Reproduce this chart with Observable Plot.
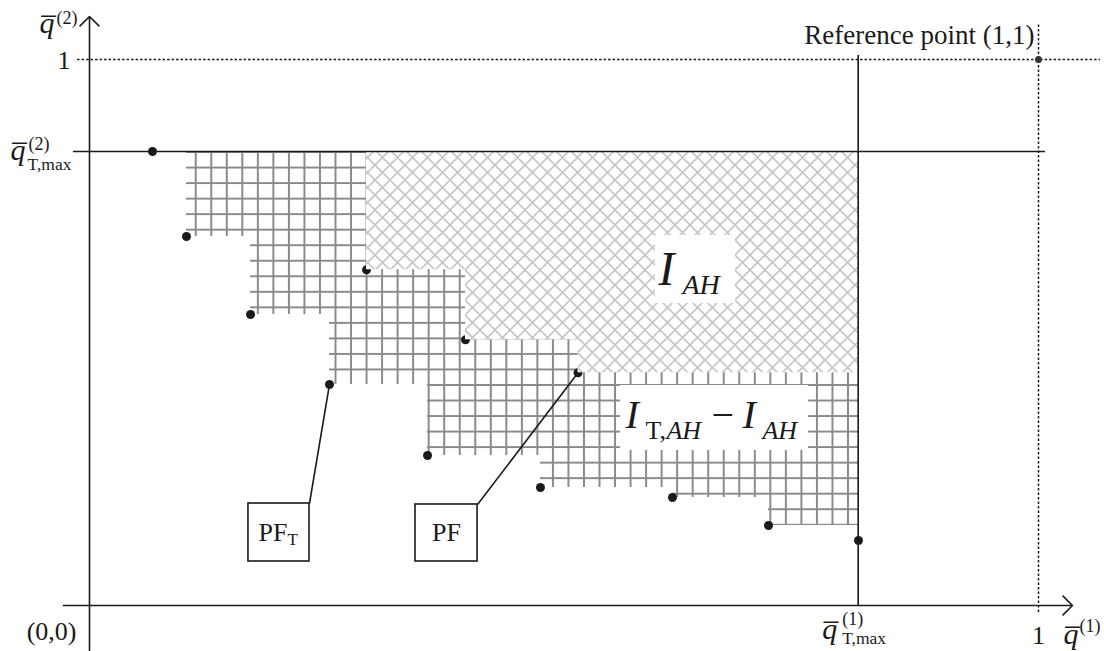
<!DOCTYPE html>
<html><head><meta charset="utf-8">
<script src="https://cdn.jsdelivr.net/npm/d3@7"></script>
<script src="https://cdn.jsdelivr.net/npm/@observablehq/plot@0.6"></script>
<style>body{margin:0;background:#fff;} svg{display:block;}</style>
</head><body><div id="chart"></div>
<script>
// ---- data (normalized objective space) ----
const q1TMax = 0.810;   // \bar q^{(1)}_{T,max}
const q2TMax = 0.8315;  // \bar q^{(2)}_{T,max}
const refX = [1];
const refY = [1];
// PF_T (true Pareto front) points
const pfTx = [0.0664, 0.1022, 0.1697, 0.2529, 0.3562, 0.4752, 0.6143, 0.7155, 0.8103];
const pfTy = [0.8315, 0.6758, 0.5330, 0.4048, 0.2747, 0.2161, 0.1978, 0.1465, 0.1190];
// PF (approximate front) points
const pfX = [0.2919, 0.3962, 0.5148];
const pfY = [0.6148, 0.4866, 0.4262];
// callout boxes: label, subscript, box extent
const calloutLabels = ["PF", "PF"];
const calloutSubs = ["T", ""];
const calloutX1 = [0.1675, 0.3435];
const calloutX2 = [0.2318, 0.4089];
const calloutY1 = [0.0806, 0.0806];
const calloutY2 = [0.1868, 0.1850];

const pfT = pfTx.map((x, i) => ({x, y: pfTy[i]}));
const pf = pfX.map((x, i) => ({x, y: pfY[i]}));
const pfArea = pf.concat([{x: q1TMax, y: pfY[pfY.length - 1]}]);
const callouts = calloutLabels.map((l, i) => ({
  label: l, sub: calloutSubs[i], x1: calloutX1[i], x2: calloutX2[i], y1: calloutY1[i], y2: calloutY2[i],
  tx: i === 0 ? pfTx[3] : pfX[2], ty: i === 0 ? pfTy[3] : pfY[2]
}));

const FONT = "'Liberation Serif','Times New Roman',serif";
const INK = "#1a1a1a";
function t(str, ax, ay, dx, dy, o = {}) {
  return Plot.text([{x: ax, y: ay, s: str}], {
    x: "x", y: "y", text: "s", dx, dy, lineAnchor: "bottom",
    textAnchor: o.anchor || "start", fontSize: o.size || 26,
    fontStyle: o.italic ? "italic" : "normal", fill: INK, fontFamily: FONT
  });
}
const QBAR = "q\u0305";
const QS = 30, SS = 18, SB = 17.5;

const withSub = callouts.filter(d => d.sub);
const noSub = callouts.filter(d => !d.sub);

const chart = Plot.plot({
  width: 1104, height: 651, margin: 0,
  x: {domain: [0, 1], range: [89, 1038], axis: null},
  y: {domain: [0, 1], range: [605, 59], axis: null},
  style: {fontFamily: FONT, background: "white", overflow: "visible"},
  marks: [
    // dominated region of PF_T (grid pattern)
    Plot.areaY(pfT, {x: "x", y1: "y", y2: q2TMax, curve: "step-after", fill: "url(#gridPat)"}),
    // PF points (partly covered by I_AH region)
    Plot.dot(pf, {x: "x", y: "y", r: 4.5, fill: INK}),
    // dominated region of PF (crosshatch)
    Plot.areaY(pfArea, {x: "x", y1: "y", y2: q2TMax, curve: "step-after", fill: "white"}),
    Plot.areaY(pfArea, {x: "x", y1: "y", y2: q2TMax, curve: "step-after", fill: "url(#hatchPat)"}),
    // white label backgrounds
    Plot.rect([{x1: 0.5964, x2: 0.6807, y1: 0.5531, y2: 0.6777}, {x1: 0.5595, x2: 0.7576, y1: 0.2839, y2: 0.4029}],
      {x1: "x1", x2: "x2", y1: "y1", y2: "y2", fill: "white"}),
    // dotted reference lines
    Plot.ruleY(refY, {x1: -0.0126, x2: 1.0653, stroke: INK, strokeWidth: 1.5, strokeDasharray: "2.5,2"}),
    Plot.ruleX(refX, {y1: -0.0128, y2: 1.066, stroke: INK, strokeWidth: 1.5, strokeDasharray: "2.5,2"}),
    // max lines
    Plot.ruleY([q2TMax], {x1: -0.0169, x2: 1.0074, stroke: INK, strokeWidth: 1.6}),
    Plot.ruleX([q1TMax], {y1: 0, y2: 1.0073, stroke: INK, strokeWidth: 1.6}),
    // axes
    Plot.arrow([{x1: -0.0274, y1: 0, x2: 1.0358, y2: 0}], {x1: "x1", y1: "y1", x2: "x2", y2: "y2", stroke: INK, strokeWidth: 1.6, headLength: 12.5, headAngle: 90}),
    Plot.arrow([{x1: 0, y1: -0.0824, x2: 0, y2: 1.0788}], {x1: "x1", y1: "y1", x2: "x2", y2: "y2", stroke: INK, strokeWidth: 1.6, headLength: 12.5, headAngle: 90}),
    // PF_T points
    Plot.dot(pfT, {x: "x", y: "y", r: 4.5, fill: INK}),
    // reference point
    Plot.dot([{x: refX[0], y: refY[0]}], {x: "x", y: "y", r: 3.5, fill: "#333"}),
    // callouts
    Plot.link(callouts, {x1: "x2", y1: "y2", x2: "tx", y2: "ty", stroke: INK, strokeWidth: 1.6}),
    Plot.rect(callouts, {x1: "x1", x2: "x2", y1: "y1", y2: "y2", fill: "white", stroke: INK, strokeWidth: 1.6}),
    Plot.text(withSub, {x: "x1", y: "y1", text: "label", dx: 10, dy: -20, textAnchor: "start", lineAnchor: "bottom", fontSize: 26, fill: INK, fontFamily: FONT}),
    Plot.text(withSub, {x: "x1", y: "y1", text: "sub", dx: 39, dy: -16, textAnchor: "start", lineAnchor: "bottom", fontSize: 17, fill: INK, fontFamily: FONT}),
    Plot.text(noSub, {x: d => (d.x1 + d.x2) / 2, y: "y1", text: "label", dy: -20, textAnchor: "middle", lineAnchor: "bottom", fontSize: 26, fill: INK, fontFamily: FONT}),
    // axis labels
    t(QBAR, 0, 1, -50, -27, {italic: true, size: QS}),
    t("(2)", 0, 1, -33, -36, {size: SS}),
    t("1", 0, 1, -19, 9, {anchor: "end"}),
    t("Reference point (1,1)", 1, 1, -4, -16, {anchor: "end", size: 27}),
    t(QBAR, 0, q2TMax, -79, 8, {italic: true, size: QS}),
    t("(2)", 0, q2TMax, -61, -2, {size: SS}),
    t("T,max", 0, q2TMax, -62, 18, {size: SB}),
    t("(0,0)", 0, 0, -13, 34, {anchor: "end"}),
    t(QBAR, q1TMax, 0, -36, 33, {italic: true, size: QS}),
    t("(1)", q1TMax, 0, -16, 19, {size: SS}),
    t("T,max", q1TMax, 0, -16, 38, {size: SB}),
    t("1", 1, 0, 0, 38, {anchor: "middle"}),
    t(QBAR, 1, 0, 25, 38, {italic: true, size: QS}),
    t("(1)", 1, 0, 41, 26, {size: SS}),
    // region labels
    t("I", 0.5964, 0.6777, 3, 50, {italic: true, size: 48}),
    t("AH", 0.5964, 0.6777, 27, 59, {italic: true, size: 28}),
    t("I", 0.5595, 0.4029, 5, 42, {italic: true, size: 40}),
    t("T,", 0.5595, 0.4029, 25, 53, {size: 26}),
    t("AH", 0.5595, 0.4029, 46, 53, {italic: true, size: 26}),
    t("\u2212", 0.5595, 0.4029, 91, 42, {size: 40}),
    t("I", 0.5595, 0.4029, 122, 42, {italic: true, size: 40}),
    t("AH", 0.5595, 0.4029, 142, 53, {italic: true, size: 26})
  ]
});

// patterns for the filled regions
const defs = d3.select(chart).insert("defs", ":first-child");
const S = 15.53;
const g = defs.append("pattern").attr("id", "gridPat").attr("patternUnits", "userSpaceOnUse")
  .attr("width", S).attr("height", S).attr("x", 1.6).attr("y", 4.5);
g.append("path").attr("d", `M${S/2},0V${S}M0,${S/2}H${S}`).attr("stroke", "#8a8a8a").attr("stroke-width", 2).attr("fill", "none");
const H = 15;
const h = defs.append("pattern").attr("id", "hatchPat").attr("patternUnits", "userSpaceOnUse")
  .attr("width", H).attr("height", H).attr("x", 0).attr("y", 0);
h.append("path").attr("d", `M-2,-2L${H+2},${H+2}M${H+2},-2L-2,${H+2}`).attr("stroke", "#c6c6c6").attr("stroke-width", 1.6).attr("fill", "none");

document.getElementById("chart").appendChild(chart);
</script>
</body></html>
